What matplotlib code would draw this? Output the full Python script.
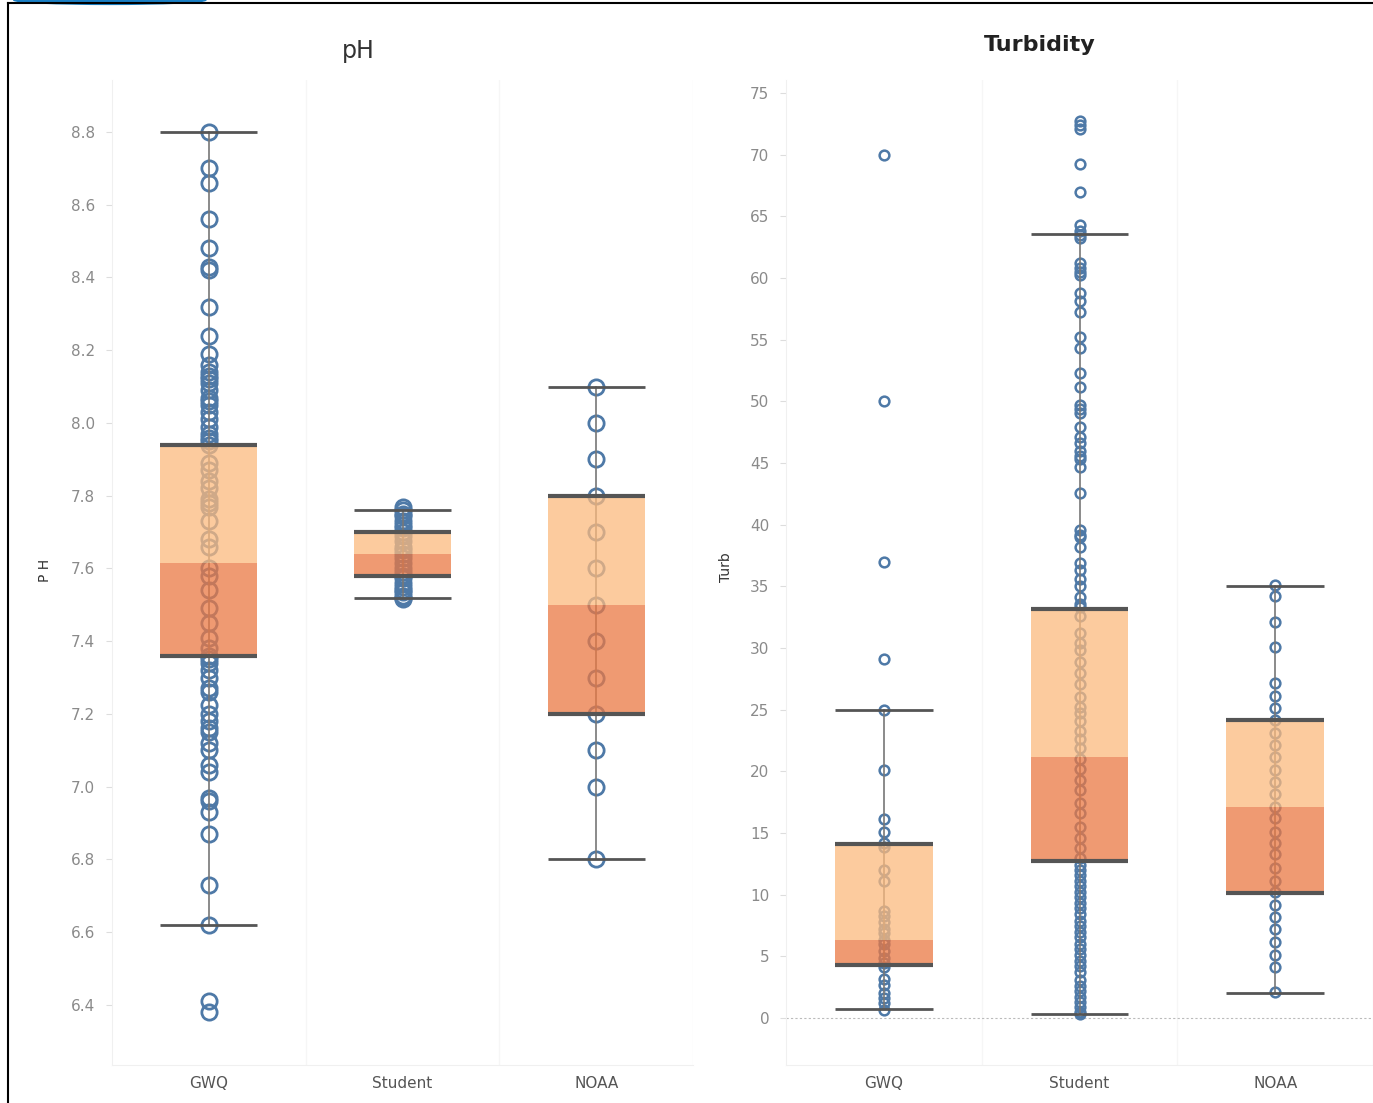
import matplotlib.pyplot as plt
from matplotlib.patches import Rectangle, Ellipse
from matplotlib.lines import Line2D

# categories
cats = ["GWQ", "Student", "NOAA"]

# pH readings per source
ph_gwq = [8.80, 8.70, 8.66, 8.56, 8.48, 8.43, 8.42, 8.32, 8.24, 8.19, 8.16, 8.14,
          8.13, 8.12, 8.11, 8.09, 8.07, 8.06, 8.05, 8.03, 8.01, 7.99, 7.97, 7.96,
          7.95, 7.94, 7.89, 7.87, 7.84, 7.82, 7.79, 7.78, 7.77, 7.73, 7.68, 7.66,
          7.60, 7.58, 7.54, 7.49, 7.45, 7.41, 7.38, 7.36, 7.35, 7.34, 7.32, 7.30,
          7.27, 7.26, 7.225, 7.20, 7.18, 7.16, 7.15, 7.12, 7.10, 7.06, 7.04, 6.97,
          6.96, 6.93, 6.87, 6.73, 6.62, 6.41, 6.38]
ph_student = [7.77, 7.76, 7.75, 7.745, 7.73, 7.72, 7.71, 7.70, 7.69, 7.675, 7.66,
              7.65, 7.64, 7.63, 7.615, 7.60, 7.59, 7.58, 7.575, 7.56, 7.55, 7.54,
              7.535, 7.525, 7.52, 7.515]
ph_noaa = [8.10, 8.00, 7.90, 7.80, 7.70, 7.60, 7.50, 7.40, 7.30, 7.20, 7.10, 7.00, 6.80]

# pH box stats
ph_lo = [6.62, 7.52, 6.80]
ph_q1 = [7.36, 7.58, 7.20]
ph_med = [7.615, 7.64, 7.50]
ph_q3 = [7.94, 7.70, 7.80]
ph_hi = [8.80, 7.76, 8.10]

# turbidity readings per source
tu_gwq = [70.0, 50.0, 37.0, 29.1, 25.0, 20.1, 16.1, 15.1, 14.2, 13.9, 12.0, 11.1,
          8.7, 8.3, 7.8, 7.2, 6.9, 6.3, 6.0, 5.4, 4.9, 4.5, 4.1, 3.2, 2.7, 2.0,
          1.6, 1.2, 0.65]
tu_student = [72.7, 72.4, 72.1, 69.2, 67.0, 64.3, 63.8, 63.5, 63.2, 61.2, 60.8,
              60.5, 60.2, 58.8, 58.1, 57.2, 55.2, 54.3, 52.3, 51.2, 49.7, 49.4,
              49.05, 47.9, 47.1, 46.6, 46.0, 45.6, 45.3, 44.7, 42.6, 39.6, 39.2,
              39.0, 38.2, 36.9, 36.3, 35.6, 35.0, 34.1, 33.6, 33.3,
              32.6, 31.2, 30.4, 29.8, 28.9, 28.0, 27.1, 26.0, 25.2, 24.7, 24.1,
              23.3, 22.6, 21.9, 21.0, 20.2, 19.3, 18.5, 17.4, 16.6, 15.5, 14.6,
              13.8, 13.0, 12.4, 12.0, 11.6, 11.1, 10.7, 10.2, 9.8, 9.3, 8.9, 8.4,
              7.9, 7.5, 7.0, 6.6, 6.0, 5.6, 5.1, 4.6, 4.2, 3.7, 3.1, 2.6, 2.2,
              1.7, 1.3, 0.9, 0.5, 0.3]
tu_noaa = [35.1, 34.2, 32.1, 30.1, 27.2, 26.1, 25.1, 24.2, 23.1, 22.1, 21.2, 20.1,
           19.1, 18.2, 17.1, 16.2, 15.1, 14.2, 13.3, 12.2, 11.1, 10.2, 9.2, 8.2,
           7.2, 6.2, 5.1, 4.1, 2.1]

# turbidity box stats
tu_lo = [0.7, 0.3, 2.0]
tu_q1 = [4.3, 12.7, 10.1]
tu_med = [6.3, 21.2, 17.1]
tu_q3 = [14.1, 33.2, 24.2]
tu_hi = [25.0, 63.6, 35.0]

BLUE = "#4e79a7"
# box colours chosen so that at alpha 0.75 over white they look like #fdcb9e / #ef9a72
LIGHT = "#fcba7e"
DARK = "#ea7843"
BOX_ALPHA = 0.75
LINE = "#555555"
TICK = "#8a8a8a"


def draw_panel(ax, groups, lo, q1, med, q3, hi, msize, mew):
    for i, vals in enumerate(groups):
        ax.plot([i] * len(vals), vals, "o", ms=msize, mfc="none", mec=BLUE,
                mew=mew, zorder=2)
        ax.plot([i, i], [lo[i], hi[i]], color="#777777", lw=1.2, zorder=2.5)
        w = 0.5
        ax.add_patch(Rectangle((i - w / 2, q1[i]), w, med[i] - q1[i],
                               facecolor=DARK, alpha=BOX_ALPHA, lw=0, zorder=3))
        ax.add_patch(Rectangle((i - w / 2, med[i]), w, q3[i] - med[i],
                               facecolor=LIGHT, alpha=BOX_ALPHA, lw=0, zorder=3))
        for y, lw in [(q1[i], 3), (q3[i], 3), (lo[i], 2), (hi[i], 2)]:
            ax.plot([i - w / 2, i + w / 2], [y, y], color=LINE, lw=lw, zorder=4,
                    solid_capstyle="butt")
    ax.set_xlim(-0.5, 2.5)
    ax.set_xticks([0, 1, 2])
    ax.set_xticklabels(cats, fontsize=11, color="#555555")
    ax.tick_params(axis="x", length=0, pad=8)
    ax.tick_params(axis="y", labelsize=11, labelcolor=TICK, color="#dddddd",
                   length=4)
    for s in ["top", "right"]:
        ax.spines[s].set_visible(False)
    for s in ["left", "bottom"]:
        ax.spines[s].set_color("#f0f0f0")
    for xb in [0.5, 1.5, 2.5]:
        ax.axvline(xb, color="#f6f6f6", lw=1, zorder=0)


fig = plt.figure(figsize=(13.73, 11.03), dpi=100)

ax1 = fig.add_axes([0.0816, 0.0345, 0.4232, 0.893])
draw_panel(ax1, [ph_gwq, ph_student, ph_noaa], ph_lo, ph_q1, ph_med, ph_q3,
           ph_hi, 11, 2.0)
ax1.set_ylim(6.235, 8.943)
ax1.set_yticks([6.4, 6.6, 6.8, 7.0, 7.2, 7.4, 7.6, 7.8, 8.0, 8.2, 8.4, 8.6, 8.8])
ax1.set_yticklabels([f"{v:.1f}" for v in ax1.get_yticks()])
ax1.tick_params(axis="y", pad=8)
fig.text(0.261, 0.954, "pH", fontsize=17, color="#333333", ha="center", va="center")
fig.text(0.033, 0.483, "P H", fontsize=10, color="#333333", rotation=90,
         ha="center", va="center")

ax2 = fig.add_axes([0.5725, 0.0345, 0.4275, 0.893])
draw_panel(ax2, [tu_gwq, tu_student, tu_noaa], tu_lo, tu_q1, tu_med, tu_q3,
           tu_hi, 7, 1.8)
ax2.set_ylim(-3.8, 76.05)
ax2.set_yticks(range(0, 80, 5))
ax2.axhline(0, color="#bbbbbb", lw=0.8, ls=(0, (2, 2)), zorder=1)
ax2.tick_params(axis="y", pad=8)
fig.text(0.757, 0.959, "Turbidity", fontsize=16, fontweight="bold", color="#222222",
         ha="center", va="center")
fig.text(0.529, 0.486, "Turb", fontsize=10, color="#333333", rotation=90,
         ha="center", va="center")

# outer frame like the dashboard border
fig.add_artist(Line2D([0.006, 1.0], [0.9973, 0.9973], color="black", lw=1.5,
                      transform=fig.transFigure))
fig.add_artist(Line2D([0.006, 0.006], [0.0, 0.9973], color="black", lw=1.5,
                      transform=fig.transFigure))
fig.add_artist(Ellipse((0.08, 1.0), 0.14, 0.008, color="#1a7fc4",
                       transform=fig.transFigure))

fig.savefig("out.png", dpi=100)
